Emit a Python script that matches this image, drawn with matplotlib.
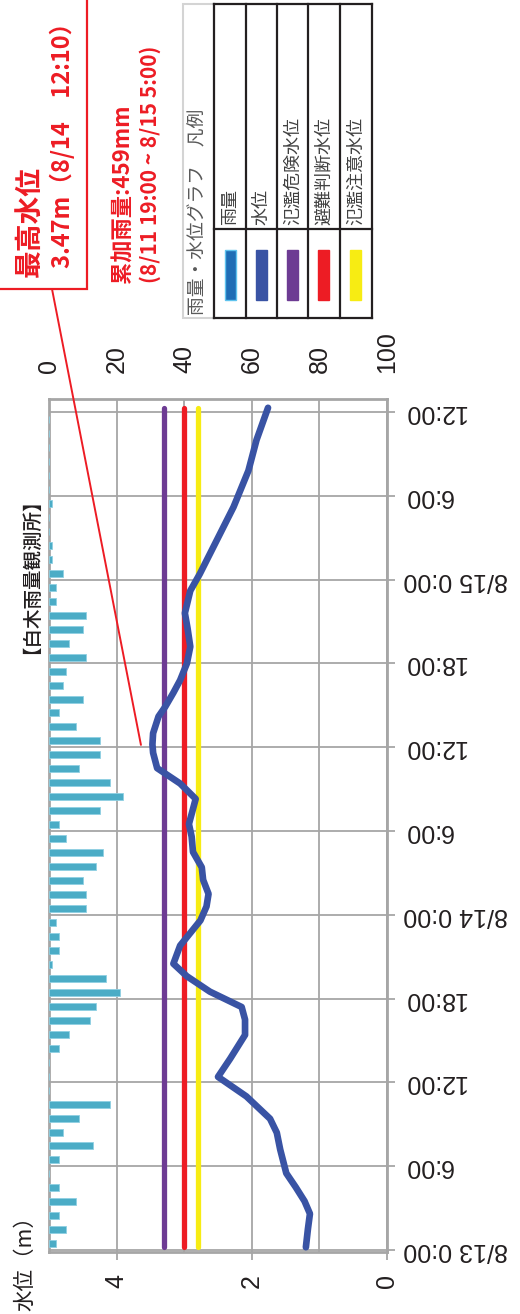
import numpy as np
import matplotlib.pyplot as plt
from matplotlib.patches import Rectangle
from matplotlib.lines import Line2D

plt.rcParams['font.family'] = ['Noto Sans CJK JP', 'DejaVu Sans']

# hourly rainfall (mm); index 0 = 8/13 0:00-1:00
rain_mm = [2, 5, 3, 8, 3, 0, 3, 13, 4, 9, 18, 0, 0, 0, 3, 6, 12, 14, 21, 17, 1,
           3, 3, 2, 11, 11, 10, 14, 16, 5, 3, 15, 22, 18, 9, 15, 15, 8, 3, 10,
           4, 5, 11, 6, 10, 11, 2, 2, 4, 1, 1, 0, 0, 1, 0, 0, 0, 0, 0, 0]

# water level (m), time in hours from 8/13 0:00
level_t = [0.2, 1.5, 2.6, 3.5, 4.5, 5.5, 7.2, 8.4, 9.4, 11.0, 12.4, 13.7, 15.4,
           16.5, 17.4, 18.5, 19.6, 20.5, 21.8, 22.7, 23.6, 24.6, 25.5, 26.5,
           27.4, 28.5, 29.6, 30.5, 32.3, 33.4, 34.5, 35.6, 36.2, 37.0, 38.2,
           38.9, 39.9, 40.8, 42.0, 43.2, 44.5, 45.6, 47.2, 48.4, 50.8, 53.2,
           55.8, 58.0, 60.3]
level_m = [1.20, 1.17, 1.14, 1.22, 1.35, 1.49, 1.58, 1.63, 1.73, 2.08, 2.50,
           2.32, 2.10, 2.10, 2.15, 2.62, 2.96, 3.16, 3.06, 2.91, 2.76, 2.67,
           2.64, 2.72, 2.74, 2.87, 2.89, 2.93, 2.83, 3.06, 3.40, 3.46, 3.47,
           3.46, 3.38, 3.28, 3.16, 3.06, 2.96, 2.91, 2.95, 2.99, 2.91, 2.77,
           2.52, 2.27, 2.05, 1.93, 1.76]

thresholds = [3.3, 3.0, 2.8]   # 氾濫危険, 避難判断, 氾濫注意
peak_time = 36 + 10 / 60

time_ticks = list(range(0, 61, 6))
time_labels = ['8/13 0:00', '6:00', '12:00', '18:00', '8/14 0:00', '6:00',
               '12:00', '18:00', '8/15 0:00', '6:00', '12:00']
legend_labels = ['雨量', '水位', '氾濫危険水位', '避難判断水位', '氾濫注意水位']

RED = '#ed1c24'
BLUE = '#3953a4'
BAR = '#4bacc6'
GRID = '#a6a6a6'
TXT = '#231f20'
thr_colors = ['#6d3b93', RED, '#f7ec13']
legend_colors = ['#1f6db5', BLUE] + thr_colors

W, H = 520, 1314
fig = plt.figure(figsize=(W / 100, H / 100), dpi=100)

def fx(px):
    return px / W

def fy(py):
    return 1 - py / H

ax = fig.add_axes([fx(49), fy(1252), fx(387 - 49), (1252 - 399) / H])
ax.set_xlim(5, 0)
ax.set_ylim(-0.14, 60.93)

for lv, c in zip(thresholds, thr_colors):
    ax.plot([lv, lv], [level_t[0], level_t[-1]], color=c, lw=3.8,
            solid_capstyle='round', zorder=3)
ax.plot(level_m, level_t, color=BLUE, lw=4.8, solid_capstyle='round',
        solid_joinstyle='round', zorder=4)

ax.set_xticks([0, 2, 4])
ax.set_xticks([1, 3], minor=True)
ax.set_yticks(time_ticks)
ax.set_yticklabels(time_labels)
ax.grid(which='both', color=GRID, lw=1.3)
ax.set_axisbelow(True)
for sp in ax.spines.values():
    sp.set_color(GRID)
    sp.set_linewidth(2)

ax.yaxis.tick_right()
ax.tick_params(axis='x', which='major', direction='out', length=6, width=1.3,
               color=GRID, pad=10, labelsize=18, labelrotation=90,
               labelcolor=TXT, labelfontfamily='Liberation Sans')
ax.tick_params(axis='x', which='minor', length=0)
ax.tick_params(axis='y', direction='out', length=6, width=1.3, color=GRID,
               pad=6, labelsize=18, labelrotation=180, labelcolor=TXT,
               labelfontfamily='Liberation Sans')
for lab in ax.get_yticklabels():
    lab.set_va('center')
    lab.set_ha('left')

ax2 = ax.twiny()
ax2.set_xlim(0, 100)
ax2.barh(np.arange(len(rain_mm)) + 0.45, rain_mm, height=0.5, color=BAR,
         edgecolor='#8fd0e2', lw=0.6)
ax2.set_xticks(range(0, 101, 20))
ax2.tick_params(axis='x', length=0, pad=19, labelsize=18, labelrotation=90,
                labelcolor=TXT, labelfontfamily='Liberation Sans')
for sp in ax2.spines.values():
    sp.set_visible(False)

# peak annotation
fig.add_artist(Rectangle((-0.01, fy(289)), fx(87) + 0.01, 289 / H + 0.01,
                         transform=fig.transFigure, fill=False,
                         edgecolor=RED, lw=1.6))
ax.annotate('', xy=(3.64, peak_time), xycoords='data',
            xytext=(fx(52), fy(289)), textcoords='figure fraction',
            arrowprops=dict(arrowstyle='-', color=RED, lw=1.4,
                            shrinkA=0, shrinkB=0), annotation_clip=False)
fig.text(fx(30), fy(277), '最高水位', rotation=90, ha='center', va='bottom',
         fontsize=20, fontweight='bold', color=RED)
fig.text(fx(62), fy(268), '3.47m（8/14　12:10）', rotation=90, ha='center',
         va='bottom', fontsize=17, fontweight='bold', color=RED)
fig.text(fx(123), fy(283), '累加雨量:459mm', rotation=90, ha='center',
         va='bottom', fontsize=16, fontweight='bold', color=RED)
fig.text(fx(150), fy(283), '(8/11 19:00 ~ 8/15 5:00)', rotation=90,
         ha='center', va='bottom', fontsize=15, fontweight='bold', color=RED)

fig.text(fx(21), fy(566), '【白木雨量観測所】', rotation=90, ha='center',
         va='center', fontsize=14, fontweight='medium', color=TXT)
fig.text(fx(25), fy(1205), '水位（m）', rotation=90, ha='center', va='top',
         fontsize=15.5, color=TXT)

# legend table
fig.add_artist(Rectangle((fx(183), fy(318)), fx(214 - 183), (318 - 4) / H,
                         transform=fig.transFigure, fill=False,
                         edgecolor='#d4d4d4', lw=1.5))
fig.text(fx(198), fy(315), '雨量・水位グラフ　凡例', rotation=90, ha='center',
         va='bottom', fontsize=13.5, color='#595959')
col_edges = [214, 246, 277, 308, 339.5, 372]
for xe in col_edges:
    fig.add_artist(Line2D([fx(xe), fx(xe)], [fy(4), fy(318)],
                          transform=fig.transFigure, color=TXT, lw=1.6))
for ye in [4, 229, 318]:
    fig.add_artist(Line2D([fx(214), fx(372)], [fy(ye), fy(ye)],
                          transform=fig.transFigure, color=TXT, lw=1.6))
for i, (lab, c) in enumerate(zip(legend_labels, legend_colors)):
    cx = (col_edges[i] + col_edges[i + 1]) / 2
    fig.text(fx(cx), fy(225), lab, rotation=90, ha='center', va='bottom',
             fontsize=13, color='#404040')
    ec = '#5fc3ee' if i == 0 else c
    fig.add_artist(Rectangle((fx(cx - 5.5), fy(300)), fx(11), 50 / H,
                             transform=fig.transFigure, facecolor=c,
                             edgecolor=ec, lw=1))

fig.savefig('out.png', dpi=100)
